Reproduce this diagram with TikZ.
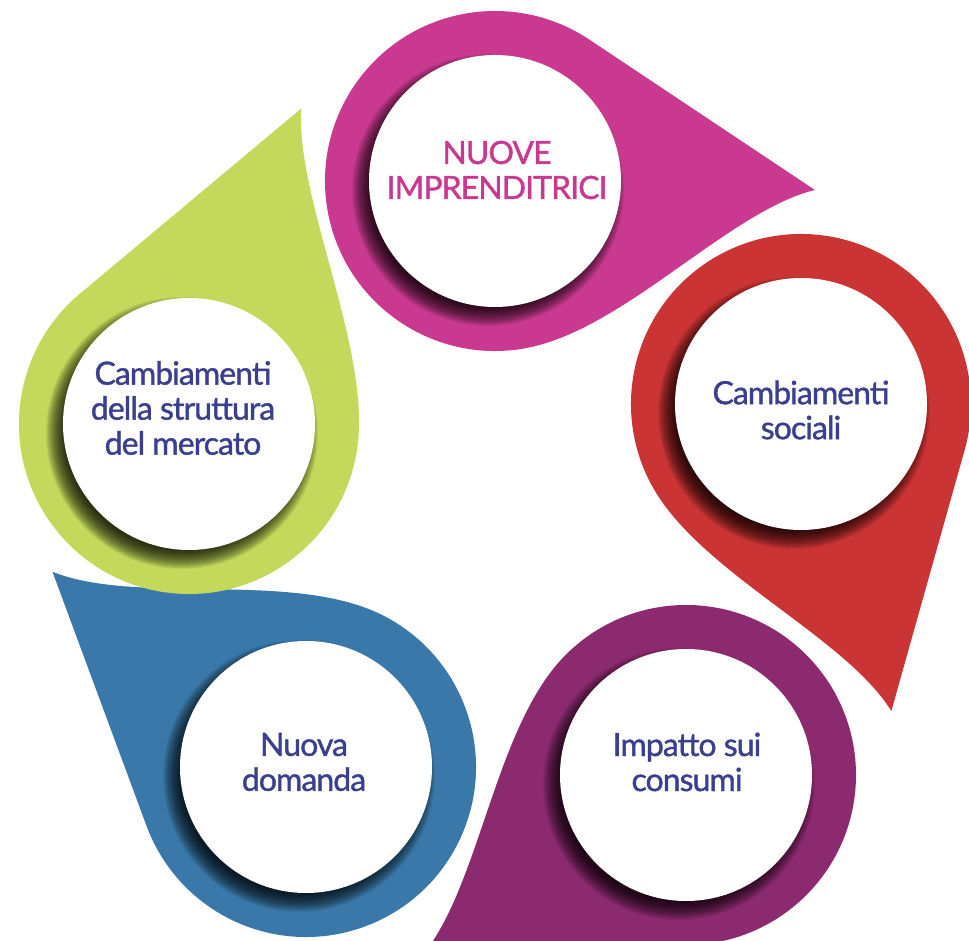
\documentclass[tikz,border=0pt]{standalone}
\usepackage{fontspec}
\setmainfont{Lato}
\newfontfamily\labelfont{Lato}[FakeBold=1.2, LetterSpace=-3]
\usetikzlibrary{calc}
\definecolor{cpink}{HTML}{C9398F}
\definecolor{cred}{HTML}{CB3434}
\definecolor{cpurple}{HTML}{8B2A6F}
\definecolor{cblue}{HTML}{3A78A9}
\definecolor{cgreen}{HTML}{C4D95B}
\definecolor{ctext}{HTML}{3A3F8E}
\newcommand\dropshape[4][320]{%
  \begin{scope}[shift={(#2)}, rotate=#3]
    \fill[#4] (56.3:170) -- (-1.6:#1)
      .. controls +(194:90) and (128,-150) .. (-80:170)
      arc[start angle=-80, end angle=-303.7, radius=170] -- cycle;
  \end{scope}}
\newcommand\softshadow[1]{%
  \foreach \i in {0,...,19}{
    \fill[black, opacity=0.065] ($(#1)+(-7,-9)$) circle[radius={136-\i}];
  }}
\tikzset{
  disc/.style={circle, fill=white, minimum size=252, inner sep=0pt},
  label/.style={align=center, text=ctext, font=\labelfont\fontsize{32}{35}\selectfont},
}
\begin{document}
\begin{tikzpicture}[x=1pt, y=1pt]
  \useasboundingbox (0,0) rectangle (969,940);
  \fill[white] (0,0) rectangle (969,940);
  \clip (0,0) rectangle (969,940);
  \coordinate (c1) at (495,759);
  \coordinate (c2) at (801,536);
  \coordinate (c3) at (686,165);
  \coordinate (c4) at (306,173);
  \coordinate (c5) at (189,516);
  \dropshape{c1}{0}{cpink}
  \dropshape{c2}{-72}{cred}
  \dropshape{c3}{-144}{cpurple}
  \dropshape{c4}{-216}{cblue}
  \dropshape[335]{c5}{-288}{cgreen}
  \softshadow{c1}
  \softshadow{c2}
  \softshadow{c3}
  \softshadow{c4}
  \softshadow{c5}
  \node[disc] (w1) at (c1) {};
  \node[disc] (w2) at (c2) {};
  \node[disc] (w3) at (c3) {};
  \node[disc] (w4) at (c4) {};
  \node[disc] (w5) at (c5) {};
  \node[label, text=cpink] (t1) at (497,770) {NUOVE\\IMPRENDITRICI};
  \node[label] (t2) at (801,530) {Cambiamenti\\sociali};
  \node[label] (t3) at (687,178) {Impatto sui\\consumi};
  \node[label] (t4) at (304,178) {Nuova\\domanda};
  \node[label] (t5) at (183,532) {Cambiamenti\\della struttura\\del mercato};
\end{tikzpicture}
\end{document}
